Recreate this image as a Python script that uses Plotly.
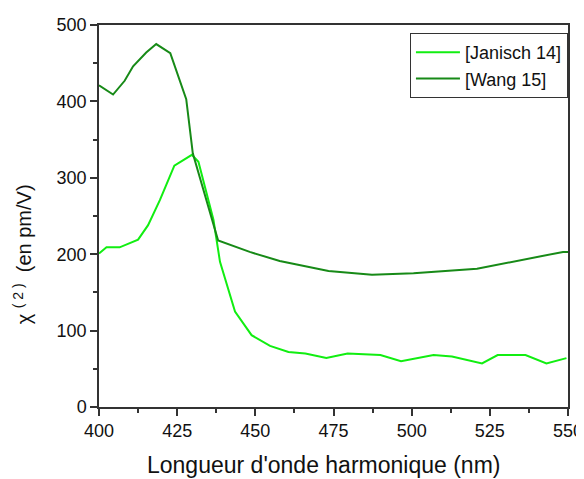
import plotly.graph_objects as go

# Janisch 14
janisch_x = [400, 402.4, 406.6, 412.5, 415.7, 419.5, 424.1, 429.7, 431.8, 436.6, 438.7,
             443.5, 448.8, 454.7, 460.6, 466, 472.7, 479.5, 490, 496.6, 507, 512.9,
             522.5, 527.5, 536.4, 543.1, 549.5]
janisch_y = [201, 209, 209, 219, 238, 271, 316, 330, 321, 245, 190,
             125, 94, 80, 72, 70, 64, 70, 68, 60, 68, 66,
             57, 68, 68, 57, 64]

# Wang 15
wang_x = [400, 404.5, 408.2, 410.9, 415.1, 418.3, 422.8, 425.2, 427.9, 430, 438.1,
          448.2, 457.8, 473.4, 487.3, 500.6, 520.9, 548.4, 550]
wang_y = [421, 409, 427, 446, 464, 475, 463, 435, 403, 332, 218,
          203, 191, 178, 173, 175, 181, 203, 203]

FONT = "Liberation Sans, Arial, sans-serif"

fig = go.Figure()
fig.add_trace(go.Scatter(x=janisch_x, y=janisch_y, mode="lines", name="[Janisch 14]",
                         line=dict(color="#11ee11", width=2)))
fig.add_trace(go.Scatter(x=wang_x, y=wang_y, mode="lines", name="[Wang 15]",
                         line=dict(color="#178a17", width=2)))

axis_common = dict(showgrid=False, zeroline=False, showline=True, linecolor="#333",
                   linewidth=1.5, mirror=True, ticks="outside", ticklen=7,
                   tickcolor="#333", tickwidth=1.5, automargin=False,
                   tickfont=dict(family=FONT, size=18, color="#111"))

fig.update_xaxes(range=[400, 550], dtick=25, tick0=400,
                 minor=dict(dtick=12.5, ticks="outside", ticklen=4, tickcolor="#333"),
                 **axis_common)
fig.update_yaxes(range=[0, 500], dtick=100,
                 minor=dict(dtick=50, ticks="outside", ticklen=4, tickcolor="#333"),
                 **axis_common)

# axis titles as annotations to place them like the original
fig.add_annotation(text="Longueur d'onde harmonique (nm)", xref="paper", yref="paper",
                   x=0.478, y=-0.152, xanchor="center", yanchor="middle", showarrow=False,
                   font=dict(family=FONT, size=23, color="#111"))
fig.add_annotation(text="χ <sup>( 2 )</sup>  (en pm/V)", xref="paper", yref="paper",
                   x=-0.164, y=0.40, xanchor="center", yanchor="middle", showarrow=False,
                   textangle=-90, font=dict(family=FONT, size=20, color="#111"))

# page body adds an 8px margin, so the figure is a bit smaller than the window
fig.update_layout(
    width=576, height=471,
    margin=dict(l=91, r=16, t=17, b=72),
    plot_bgcolor="white", paper_bgcolor="white",
    showlegend=True,
    legend=dict(x=0.663, y=0.979, xanchor="left", yanchor="top",
                bordercolor="#333", borderwidth=1, bgcolor="white",
                font=dict(family=FONT, size=18, color="#111"),
                tracegroupgap=0, itemwidth=44),
)

fig.write_html("out.html")
